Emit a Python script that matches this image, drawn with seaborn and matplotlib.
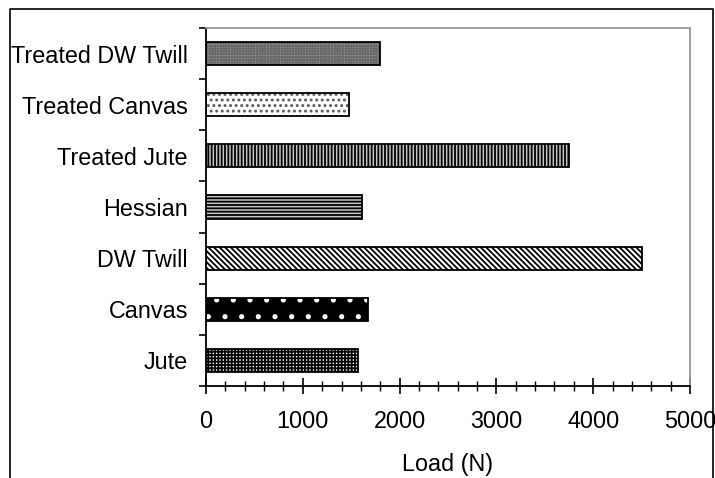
import matplotlib
matplotlib.use("Agg")
import matplotlib.pyplot as plt
from matplotlib.patches import Rectangle
from matplotlib.lines import Line2D
from matplotlib.ticker import MultipleLocator, FixedLocator
import seaborn as sns
import pandas as pd

# Fabric samples (top to bottom) and their failure loads
fabrics = ["Treated DW Twill", "Treated Canvas", "Treated Jute", "Hessian",
           "DW Twill", "Canvas", "Jute"]
loads = [1800, 1480, 3750, 1610, 4500, 1670, 1570]

# fill colour, hatch pattern, hatch colour for each fabric
styles = {
    "Treated DW Twill": ("#b4b4b4", "++++++", "#6a6a6a"),
    "Treated Canvas": ("white", "...", "#555555"),
    "Treated Jute": ("#c8c8c8", "|||||", "black"),
    "Hessian": ("#c8c8c8", "-----", "black"),
    "DW Twill": ("white", "\\\\\\\\\\\\", "black"),
    "Canvas": ("black", ".", "white"),
    "Jute": ("white", "+++++", "black"),
}

df = pd.DataFrame({"fabric": fabrics, "load": loads})

sns.set_style("white")
plt.rcParams["font.family"] = ["Liberation Sans", "DejaVu Sans"]
plt.rcParams["hatch.linewidth"] = 1.3
plt.rcParams["text.color"] = "black"
plt.rcParams["axes.labelcolor"] = "black"
plt.rcParams["xtick.color"] = "black"
plt.rcParams["ytick.color"] = "black"

FS = 16.8

fig = plt.figure(figsize=(7.15, 4.78), dpi=100)
ax = fig.add_axes([206 / 715, 1 - 386 / 478, (690 - 206) / 715, (386 - 28) / 478])

sns.barplot(data=df, x="load", y="fabric", order=fabrics, orient="h",
            color="white", width=0.45, ax=ax, errorbar=None)

for patch, name in zip(ax.patches, fabrics):
    face, hatch, hcol = styles[name]
    patch.set_facecolor(face)
    patch.set_hatch(hatch)
    patch.set_edgecolor(hcol)
    patch.set_linewidth(0)
    # black outline over the hatched fill
    ax.add_patch(Rectangle(patch.get_xy(), patch.get_width(), patch.get_height(),
                           fill=False, edgecolor="black", linewidth=1.3, zorder=3))

ax.set_xlim(0, 5000)
ax.set_ylim(len(fabrics) - 0.5, -0.5)

ax.xaxis.set_major_locator(MultipleLocator(1000))
ax.xaxis.set_minor_locator(MultipleLocator(200))
ax.tick_params(axis="x", which="major", direction="inout", length=11, width=1.2,
               color="black", labelcolor="black", labelsize=FS, pad=12, bottom=True)
ax.tick_params(axis="x", which="minor", direction="inout", length=7, width=1.0,
               color="black", bottom=True)

# category labels centred on bars, tick marks on the boundaries between them
ax.yaxis.set_minor_locator(FixedLocator([i - 0.5 for i in range(len(fabrics) + 1)]))
ax.tick_params(axis="y", which="major", length=0, labelsize=FS, labelcolor="black", pad=13)
ax.tick_params(axis="y", which="minor", direction="out", length=5, width=1.2,
               color="black", left=True)

ax.set_ylabel("")
ax.set_xlabel("Load (N)", fontsize=FS, color="black", labelpad=14)

for side in ("left", "bottom"):
    ax.spines[side].set_color("black")
    ax.spines[side].set_linewidth(1.3)
for side in ("top", "right"):
    ax.spines[side].set_visible(True)
    ax.spines[side].set_color("#999999")
    ax.spines[side].set_linewidth(1.3)

# outer chart border (open at the bottom)
W, H = 715, 478
xs = [10 / W, 10 / W, 713 / W, 713 / W]
ys = [-0.02, 1 - 9 / H, 1 - 9 / H, -0.02]
fig.add_artist(Line2D(xs, ys, transform=fig.transFigure, color="black", linewidth=1.2))

fig.savefig("out.png", dpi=100)
